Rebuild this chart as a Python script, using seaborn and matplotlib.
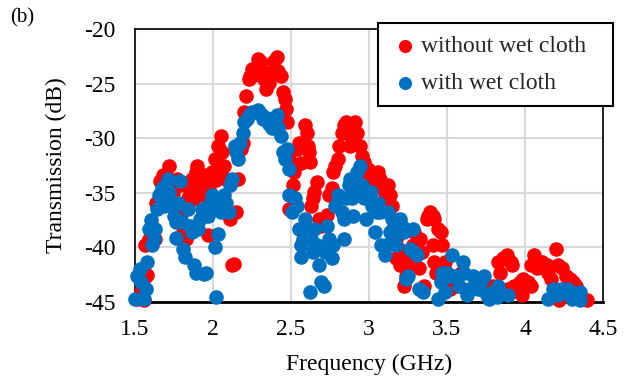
import numpy as np
import pandas as pd
import seaborn as sns
import matplotlib.pyplot as plt

# Transmission without wet cloth (red)
freq_without = [
    1.515, 1.54, 1.555, 1.567, 1.575, 1.567, 1.59, 1.63, 1.61, 1.635, 1.66, 1.66,
    1.68, 1.70, 1.72, 1.73, 1.745, 1.76, 1.77, 1.78, 1.79, 1.80, 1.81, 1.83,
    1.84, 1.85, 1.865, 1.875, 1.89, 1.90, 1.92, 1.93, 1.94, 1.955, 1.96, 1.97,
    1.98, 1.995, 2.01, 2.02, 2.03, 2.04, 2.05, 2.06, 2.07, 2.085, 2.10, 2.11,
    2.12, 2.135, 2.15, 2.16, 2.18, 2.19, 2.20, 2.21, 2.23, 2.24, 2.25, 2.265,
    2.28, 2.29, 2.305, 2.32, 2.33, 2.34, 2.36, 2.37, 2.38, 2.39, 2.41, 2.42,
    2.435, 2.45, 2.46, 2.47, 2.475, 2.49, 2.50, 2.51, 2.49, 2.52, 2.54, 2.55,
    2.565, 2.59, 2.60, 2.61, 2.625, 2.615, 2.63, 2.64, 2.65, 2.67, 2.68, 2.69,
    2.71, 2.73, 2.745, 2.76, 2.77, 2.785, 2.80, 2.81, 2.825, 2.84, 2.85, 2.865,
    2.88, 2.89, 2.90, 2.91, 2.925, 2.94, 2.955, 2.97, 2.98, 2.995, 3.01, 3.02,
    3.04, 3.06, 3.07, 3.08, 3.10, 3.11, 3.125, 3.135, 3.15, 3.16, 3.175, 3.19,
    3.175, 3.20, 3.21, 3.225, 3.24, 3.25, 3.265, 3.28, 3.29, 3.31, 3.32, 3.33,
    3.34, 3.355, 3.37, 3.38, 3.39, 3.41, 3.42, 3.41, 3.42, 3.43, 3.445, 3.46,
    3.47, 3.485, 3.50, 3.51, 3.52, 3.55, 3.59, 3.63, 3.72, 3.795, 3.83, 3.84,
    3.86, 3.885, 3.89, 3.91, 3.92, 3.93, 3.96, 3.97, 3.98, 3.99, 4.02, 4.04,
    4.04, 4.055, 4.07, 4.08, 4.11, 4.14, 4.15, 4.17, 4.20, 4.21, 4.22, 4.24,
    4.265, 4.29, 4.31, 4.33, 4.40,
]
trans_without = [
    -44.7, -44.1, -44.8, -42.7, -42.5, -39.8, -39.2, -39.2, -38.5, -35.9, -35.9, -33.9,
    -33.4, -34.0, -32.5, -33.8, -35.0, -35.9, -33.7, -36.5, -34.3, -36.8, -38.6, -39.2,
    -35.5, -34.8, -33.7, -35.6, -33.1, -32.5, -34.3, -35.2, -33.4, -34.3, -36.4, -38.9,
    -34.9, -33.1, -31.9, -33.8, -30.7, -32.6, -29.8, -31.3, -32.5, -33.7, -36.8, -37.4,
    -41.6, -41.5, -36.8, -33.7, -31.0, -30.4, -27.6, -26.1, -24.6, -24.3, -23.7, -24.2,
    -23.4, -22.7, -23.0, -24.0, -24.6, -25.5, -24.9, -23.9, -24.0, -22.9, -22.6, -23.8,
    -24.3, -25.8, -26.4, -27.3, -28.5, -31.9, -32.8, -34.3, -36.5, -33.1, -31.0, -30.4,
    -32.3, -28.8, -29.5, -30.7, -32.2, -31.3, -36.2, -35.5, -34.9, -34.0, -37.4, -38.0,
    -37.4, -37.0, -35.2, -34.6, -33.1, -32.5, -31.9, -30.7, -29.5, -28.8, -28.5, -29.5,
    -30.7, -30.1, -28.8, -28.5, -29.5, -30.7, -31.6, -32.2, -33.1, -32.8, -33.7, -34.3,
    -34.6, -33.1, -33.7, -34.6, -35.5, -34.9, -34.3, -35.2, -36.2, -38.0, -39.2, -40.1,
    -41.0, -41.6, -40.4, -43.5, -42.6, -41.6, -40.4, -39.8, -38.6, -40.4, -41.9, -39.2,
    -40.4, -43.5, -37.4, -37.1, -36.8, -37.1, -37.4, -39.8, -41.3, -42.3, -38.3, -38.6,
    -39.8, -41.3, -42.3, -43.2, -43.8, -43.5, -42.3, -44.1, -43.8, -43.5, -41.3, -42.3,
    -41.0, -40.7, -43.8, -41.3, -41.6, -43.5, -44.1, -43.2, -44.4, -42.9, -43.2, -43.5,
    -41.6, -40.7, -41.3, -41.9, -41.3, -41.6, -42.3, -42.9, -40.1, -41.6, -44.8, -41.9,
    -42.6, -42.9, -43.2, -43.5, -44.8,
]

# Transmission with wet cloth (blue)
freq_with = [
    1.50, 1.515, 1.53, 1.54, 1.555, 1.57, 1.58, 1.59, 1.60, 1.61, 1.62, 1.63,
    1.64, 1.655, 1.67, 1.685, 1.70, 1.71, 1.72, 1.735, 1.75, 1.76, 1.76, 1.775,
    1.79, 1.80, 1.81, 1.82, 1.84, 1.85, 1.865, 1.88, 1.89, 1.905, 1.915, 1.93,
    1.94, 1.955, 1.97, 1.98, 1.995, 2.01, 2.015, 2.035, 2.02, 2.05, 2.06, 2.07,
    2.085, 2.10, 2.11, 2.125, 2.14, 2.15, 2.16, 2.175, 2.19, 2.20, 2.215, 2.23,
    2.25, 2.28, 2.29, 2.305, 2.32, 2.345, 2.36, 2.38, 2.39, 2.41, 2.42, 2.435,
    2.45, 2.46, 2.475, 2.49, 2.49, 2.505, 2.525, 2.54, 2.55, 2.565, 2.565, 2.58,
    2.59, 2.60, 2.62, 2.63, 2.64, 2.65, 2.67, 2.68, 2.695, 2.71, 2.72, 2.73,
    2.745, 2.76, 2.77, 2.785, 2.80, 2.81, 2.825, 2.84, 2.84, 2.855, 2.87, 2.88,
    2.89, 2.90, 2.91, 2.925, 2.94, 2.955, 2.97, 2.98, 2.995, 3.01, 3.02, 3.04,
    3.05, 3.06, 3.07, 3.08, 3.10, 3.11, 3.125, 3.135, 3.15, 3.16, 3.175, 3.19,
    3.20, 3.21, 3.225, 3.24, 3.25, 3.265, 3.28, 3.29, 3.31, 3.32, 3.345, 3.445,
    3.46, 3.47, 3.485, 3.50, 3.52, 3.535, 3.55, 3.575, 3.60, 3.61, 3.63, 3.64,
    3.665, 3.68, 3.70, 3.72, 3.74, 3.755, 3.77, 3.795, 3.82, 3.83, 3.89, 4.145,
    4.18, 4.21, 4.23, 4.26, 4.275, 4.30, 4.325, 4.35, 4.35,
]
trans_with = [
    -44.7, -42.6, -42.0, -43.2, -44.7, -43.8, -41.3, -38.3, -37.5, -39.8, -39.2, -38.3,
    -36.5, -35.2, -34.6, -36.2, -34.3, -33.7, -34.9, -35.9, -37.1, -39.1, -37.7, -35.9,
    -33.9, -37.7, -40.1, -40.9, -36.5, -38.0, -38.6, -41.6, -42.3, -38.3, -37.4, -36.5,
    -42.4, -42.3, -37.1, -35.9, -35.2, -36.5, -40.0, -38.8, -44.5, -36.8, -35.9, -35.2,
    -35.9, -36.8, -34.3, -33.7, -30.7, -31.3, -31.9, -30.4, -29.5, -28.5, -28.2, -27.9,
    -27.6, -27.6, -27.4, -27.8, -28.2, -28.1, -28.7, -29.1, -28.2, -27.9, -29.0, -29.8,
    -31.3, -31.9, -31.0, -32.8, -35.2, -36.8, -35.5, -36.2, -38.3, -39.8, -40.9, -39.2,
    -37.4, -38.6, -44.1, -39.2, -40.4, -38.3, -39.8, -41.6, -43.2, -43.5, -40.4, -38.0,
    -39.2, -41.0, -39.8, -36.2, -35.2, -35.5, -36.8, -37.4, -39.2, -35.5, -34.3, -33.7,
    -35.5, -37.1, -34.9, -33.1, -32.5, -34.3, -35.5, -37.4, -35.2, -34.9, -36.2, -38.6,
    -36.8, -35.9, -36.8, -39.8, -40.7, -39.8, -36.8, -38.6, -37.4, -38.3, -39.8, -38.6,
    -37.4, -38.0, -38.6, -42.9, -42.6, -40.1, -38.3, -40.4, -40.7, -43.8, -44.1, -44.7,
    -43.2, -42.3, -44.1, -42.3, -42.6, -40.7, -42.6, -43.5, -41.3, -42.3, -44.4, -43.8,
    -42.6, -43.5, -43.8, -43.2, -42.6, -44.4, -44.7, -44.1, -44.5, -43.5, -44.4, -44.7,
    -43.8, -44.4, -43.8, -44.1, -43.8, -44.7, -44.4, -44.1, -44.8,
]

df_without = pd.DataFrame({"freq": freq_without, "trans": trans_without})
df_with = pd.DataFrame({"freq": freq_with, "trans": trans_with})

sns.set_theme(style="white")
plt.rcParams["font.family"] = ["Liberation Serif", "DejaVu Serif"]
plt.rcParams["axes.unicode_minus"] = False

fig = plt.figure(figsize=(6.32, 3.83), dpi=100)
ax = fig.add_axes([0.2136, 0.2115, 0.7404, 0.7125])

sns.scatterplot(data=df_without, x="freq", y="trans", color="#ff0000", s=110,
                linewidth=0, label="without wet cloth", clip_on=False, ax=ax, zorder=3)
sns.scatterplot(data=df_with, x="freq", y="trans", color="#0070c0", s=110,
                linewidth=0, label="with wet cloth", clip_on=False, ax=ax, zorder=4)

ax.set_xlim(1.5, 4.5)
ax.set_ylim(-45, -20)
ax.set_xticks(np.arange(1.5, 4.51, 0.5))
ax.set_xticklabels(["1.5", "2", "2.5", "3", "3.5", "4", "4.5"])
ax.set_yticks(np.arange(-45, -19, 5))
ax.tick_params(axis="both", length=0, labelsize=17, colors="black")
ax.tick_params(axis="y", pad=14)
ax.tick_params(axis="x", pad=12)

ax.grid(True, color="#d9d9d9", linewidth=1.5)
ax.set_axisbelow(True)
for side in ["left", "right", "top"]:
    ax.spines[side].set_color("black")
    ax.spines[side].set_linewidth(1.2)
ax.spines["bottom"].set_color("black")
ax.spines["bottom"].set_linewidth(2)

ax.set_xlabel("Frequency (GHz)", fontsize=17, color="black", labelpad=10)
ax.set_ylabel("Transmission (dB)", fontsize=17, color="black", labelpad=12)

# legend box stretched to the width of the one in the original
leg = ax.legend(loc="upper left", bbox_to_anchor=(0.598, 0.755, 0.372, 0.185),
                bbox_transform=fig.transFigure, mode="expand", borderaxespad=0,
                fontsize=17, frameon=True, fancybox=False, edgecolor="black",
                framealpha=1, handlelength=1.2, handletextpad=0.1,
                labelspacing=0.65, borderpad=0.53, markerscale=0.9)
leg.get_frame().set_linewidth(1.5)
leg.set_zorder(10)

fig.text(0.016, 0.953, "(b)", fontsize=15, color="black", va="center", ha="left")

fig.savefig("out.png", dpi=100)
